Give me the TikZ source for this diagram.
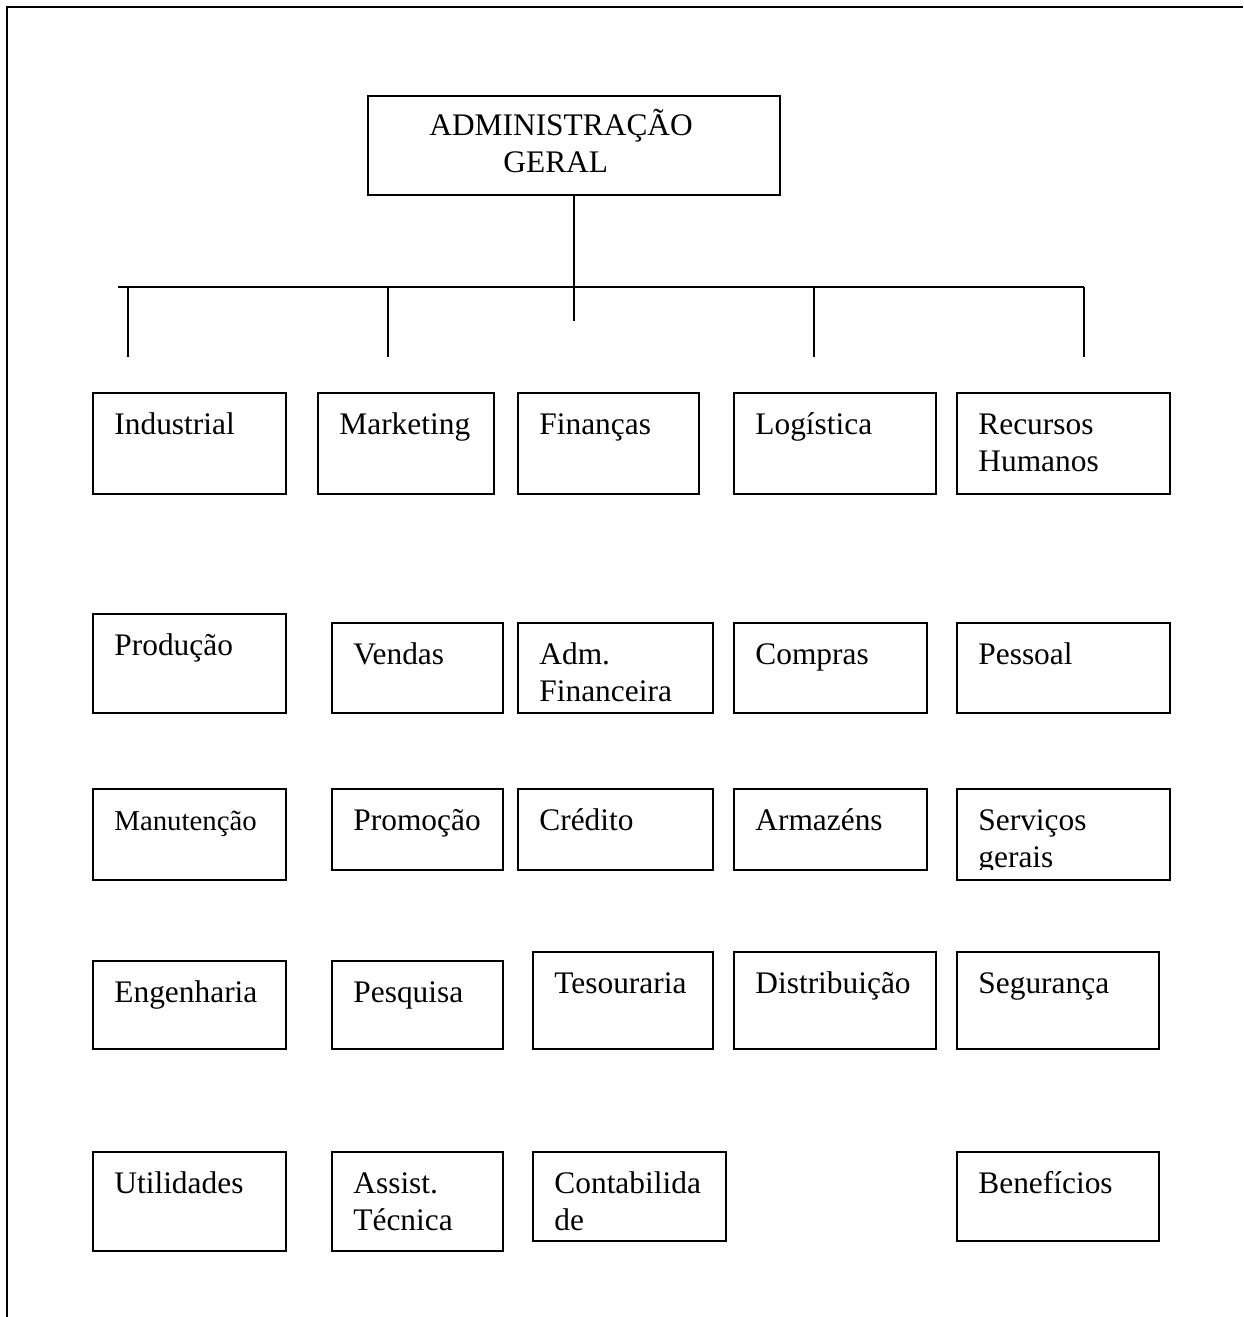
\documentclass[tikz,border=0pt]{standalone}
\usepackage{fontspec}
\setmainfont{Liberation Serif}

% one unit: a framed box (name, x1, y1, x2, y2) with its text set at the top left
\newcommand\orgunit[7][lbl]{%
  \pgfmathsetmacro\unitw{(#5-#3)*0.5}%
  \pgfmathsetmacro\unith{(#6-#4)*0.5}%
  \node[orgbox, minimum width=\unitw pt, minimum height=\unith pt] (#2) at (#3,#4) {};
  \node[#1] (#2-text) at (#3+21,#4+41) {#7};%
}
\newcommand\twolines[2]{\begin{tabular}[t]{@{}l@{}}#1\\#2\end{tabular}}

\begin{document}
\begin{tikzpicture}[x=0.5pt,y=-0.5pt,
  orgbox/.style={draw, line width=0.9pt, rectangle, inner sep=0pt, outer sep=0pt, anchor=north west},
  lbl/.style={inner sep=0pt, anchor=base west, font=\fontsize{15.7}{18.6}\selectfont},
  lblsmall/.style={lbl, font=\fontsize{14.4}{17}\selectfont},
  link/.style={line width=0.55pt},
  frame/.style={line width=1pt}]
\useasboundingbox (0,0) rectangle (1243,1317);

% page frame (top and left edges)
\draw[frame] (7,1317) -- (7,7) -- (1243,7);

% head of the organisation
\node[orgbox, minimum width=206pt, minimum height=49.5pt] (admin) at (368,96) {};
\node[lbl] (admin-l1) at (429,135) {ADMINISTRAÇÃO};
\node[lbl] (admin-l2) at (503,172) {GERAL};

% branching lines
\coordinate (bar-l) at (118,287);
\coordinate (bar-r) at (1084,287);
\coordinate (j1) at (128,287);  \coordinate (e1) at (128,357);
\coordinate (j2) at (388,287);  \coordinate (e2) at (388,357);
\coordinate (j3) at (574,287);  \coordinate (e3) at (574,321);
\coordinate (j4) at (814,287);  \coordinate (e4) at (814,357);
\coordinate (j5) at (1084,287); \coordinate (e5) at (1084,357);
\draw[link] (admin.south) -- (j3);
\draw[frame] (bar-l) -- (bar-r);
\draw[link] (j1) -- (e1);
\draw[link] (j2) -- (e2);
\draw[link] (j3) -- (e3);
\draw[link] (j4) -- (e4);
\draw[link] (j5) -- (e5);

% directorates
\orgunit{ind}{93}{393}{286}{494}{Industrial}
\orgunit{mkt}{318}{393}{494}{494}{Marketing}
\orgunit{fin}{518}{393}{699}{494}{Finanças}
\orgunit{log}{734}{393}{936}{494}{Logística}
\orgunit{rh}{957}{393}{1170}{494}{\twolines{Recursos}{Humanos}}

% second row
\orgunit{prod}{93}{614}{286}{713}{Produção}
\orgunit{vend}{332}{623}{503}{713}{Vendas}
\orgunit{admfin}{518}{623}{713}{713}{\twolines{Adm.}{Financeira}}
\orgunit{comp}{734}{623}{927}{713}{Compras}
\orgunit{pess}{957}{623}{1170}{713}{Pessoal}

% third row
\orgunit[lblsmall]{manut}{93}{789}{286}{880}{Manutenção}
\orgunit{prom}{332}{789}{503}{870}{Promoção}
\orgunit{cred}{518}{789}{713}{870}{Crédito}
\orgunit{armz}{734}{789}{927}{870}{Armazéns}
\node[orgbox, minimum width=106.5pt, minimum height=45.5pt] (serv) at (957,789) {};
\begin{scope}
  \clip (957,789) rectangle (1170,869);
  \node[lbl] (serv-text) at (978,830) {\twolines{Serviços}{gerais}};
\end{scope}

% fourth row
\orgunit{eng}{93}{961}{286}{1049}{Engenharia}
\orgunit{pesq}{332}{961}{503}{1049}{Pesquisa}
\orgunit{tes}{533}{952}{713}{1049}{Tesouraria}
\orgunit{dist}{734}{952}{936}{1049}{Distribuição}
\orgunit{seg}{957}{952}{1159}{1049}{Segurança}

% fifth row
\orgunit{util}{93}{1152}{286}{1251}{Utilidades}
\orgunit{assist}{332}{1152}{503}{1251}{\twolines{Assist.}{Técnica}}
\orgunit{cont}{533}{1152}{726}{1241}{\twolines{Contabilida}{de}}
\orgunit{benef}{957}{1152}{1159}{1241}{Benefícios}
\end{tikzpicture}
\end{document}
